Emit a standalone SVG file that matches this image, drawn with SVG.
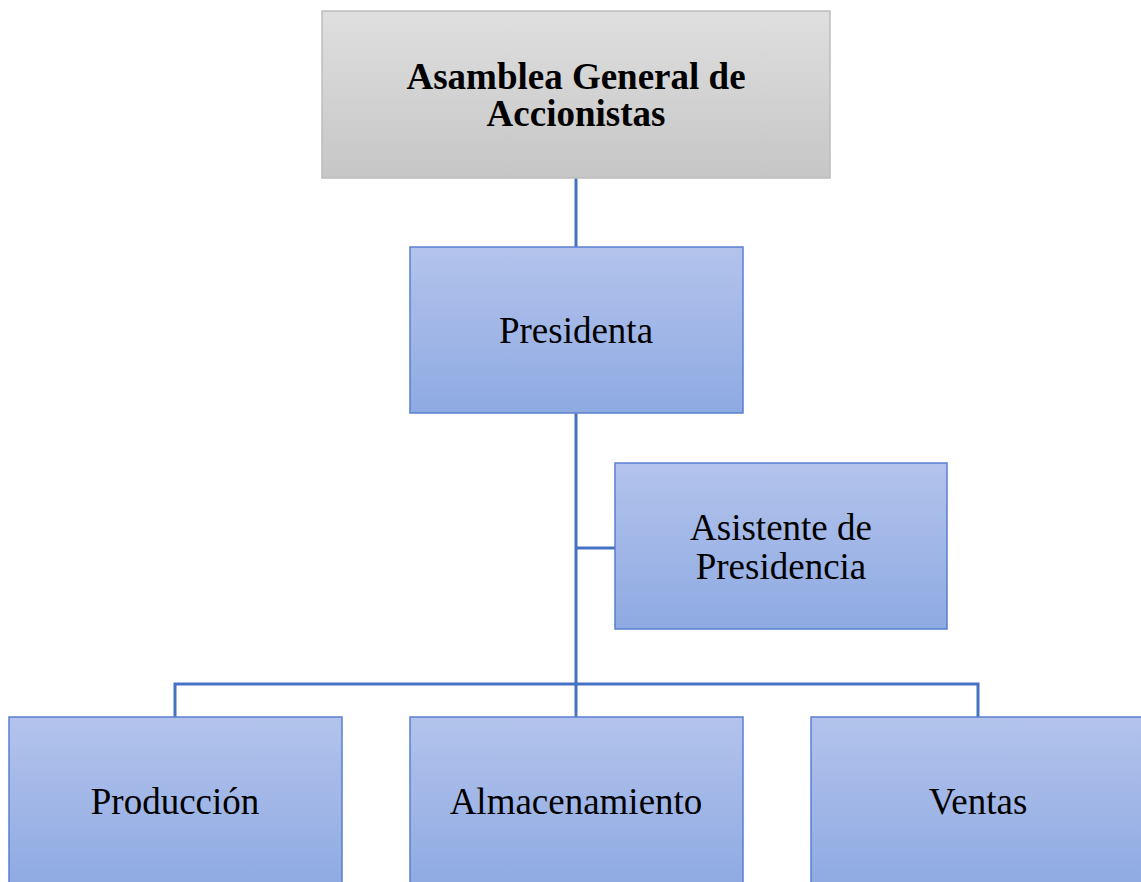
<svg xmlns="http://www.w3.org/2000/svg" width="1141" height="882" viewBox="0 0 1141 882">
<defs>
<linearGradient id="gBlue" x1="0" y1="0" x2="0" y2="1">
<stop offset="0" stop-color="#b3c3ec"/>
<stop offset="1" stop-color="#8eaae2"/>
</linearGradient>
<linearGradient id="gGray" x1="0" y1="0" x2="0" y2="1">
<stop offset="0" stop-color="#dfdfdf"/>
<stop offset="1" stop-color="#c6c6c6"/>
</linearGradient>
</defs>
<style>
.blue{fill:url(#gBlue);stroke:#5a7fd0;stroke-width:1.5}
.gray{fill:url(#gGray);stroke:#bdbdbd;stroke-width:1.5}
.t{font-family:"Liberation Serif","Times New Roman",serif;font-size:37px;fill:#000;text-anchor:middle}
.b{font-weight:bold}
.c{stroke:#4472c4;stroke-width:3;fill:none}
</style>
<rect width="1141" height="882" fill="#fff"/>
<g id="connectors">
<line class="c" x1="576" y1="178" x2="576" y2="247"/>
<line class="c" x1="576" y1="413" x2="576" y2="717"/>
<line class="c" x1="576" y1="548" x2="615" y2="548"/>
<polyline class="c" points="175,717 175,684 978,684 978,717"/>
</g>
<g id="asamblea">
<rect class="gray" x="322" y="11" width="508" height="167"/>
<text class="t b" x="576" y="89">Asamblea General de</text>
<text class="t b" x="576" y="126">Accionistas</text>
</g>
<g id="presidenta">
<rect class="blue" x="410" y="247" width="333" height="166"/>
<text class="t" x="576" y="343">Presidenta</text>
</g>
<g id="asistente">
<rect class="blue" x="615" y="463" width="332" height="166"/>
<text class="t" x="781" y="540">Asistente de</text>
<text class="t" x="781" y="579">Presidencia</text>
</g>
<g id="produccion">
<rect class="blue" x="9" y="717" width="333" height="170"/>
<text class="t" x="175" y="814">Producción</text>
</g>
<g id="almacenamiento">
<rect class="blue" x="410" y="717" width="333" height="170"/>
<text class="t" x="576" y="814">Almacenamiento</text>
</g>
<g id="ventas">
<rect class="blue" x="811" y="717" width="333" height="170"/>
<text class="t" x="978" y="814">Ventas</text>
</g>
</svg>
